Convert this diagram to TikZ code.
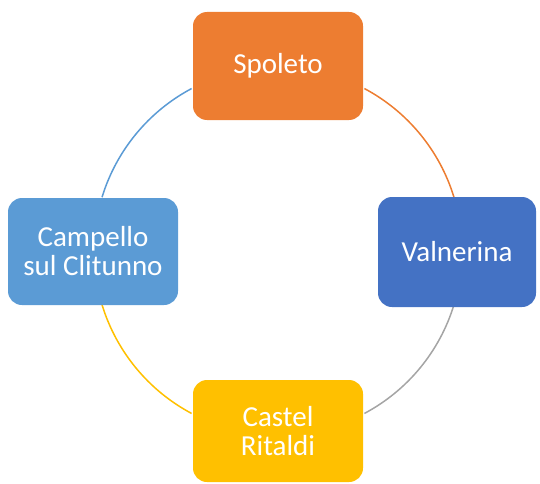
\documentclass[tikz,border=0pt]{standalone}
\usepackage{fontspec}
\setmainfont{Carlito}
\usepackage{tikz}
\usetikzlibrary{positioning}

\definecolor{spoorange}{HTML}{ED7D31}
\definecolor{campblue}{HTML}{5B9BD5}
\definecolor{valblue}{HTML}{4472C4}
\definecolor{castgold}{HTML}{FFC000}
\definecolor{ringgray}{HTML}{A5A5A5}

\begin{document}
\begin{tikzpicture}[x=1pt,y=1pt,
  city/.style={rounded corners=14pt, minimum width=170pt, minimum height=108pt,
    inner sep=0pt, align=center, text=white, font=\fontsize{29}{29}\selectfont},
  ring/.style={line width=1.5pt}]

  \useasboundingbox (0,0) rectangle (540,483);
  \coordinate (centre) at (278,232);

  % arcs of the ring
  \draw[ring, campblue] (centre) ++(118:184) arc[start angle=118, end angle=163, radius=184];
  \draw[ring, spoorange] (centre) ++(62:184) arc[start angle=62, end angle=17, radius=184];
  \draw[ring, ringgray] (centre) ++(-17:184) arc[start angle=-17, end angle=-62, radius=184];
  \draw[ring, castgold] (centre) ++(197:184) arc[start angle=197, end angle=242, radius=184];

  % the four towns
  \node[city, fill=spoorange] (spoleto) at (278,417) {Spoleto};
  \node[city, fill=campblue, minimum height=107pt] (campello) at (93,231.5) {Campello\\sul Clitunno};
  \node[city, fill=valblue, minimum width=158pt, minimum height=110pt] (valnerina) at (457,231) {Valnerina};
  \node[city, fill=castgold, minimum height=102pt] (castel) at (278,52) {Castel\\Ritaldi};
\end{tikzpicture}
\end{document}
